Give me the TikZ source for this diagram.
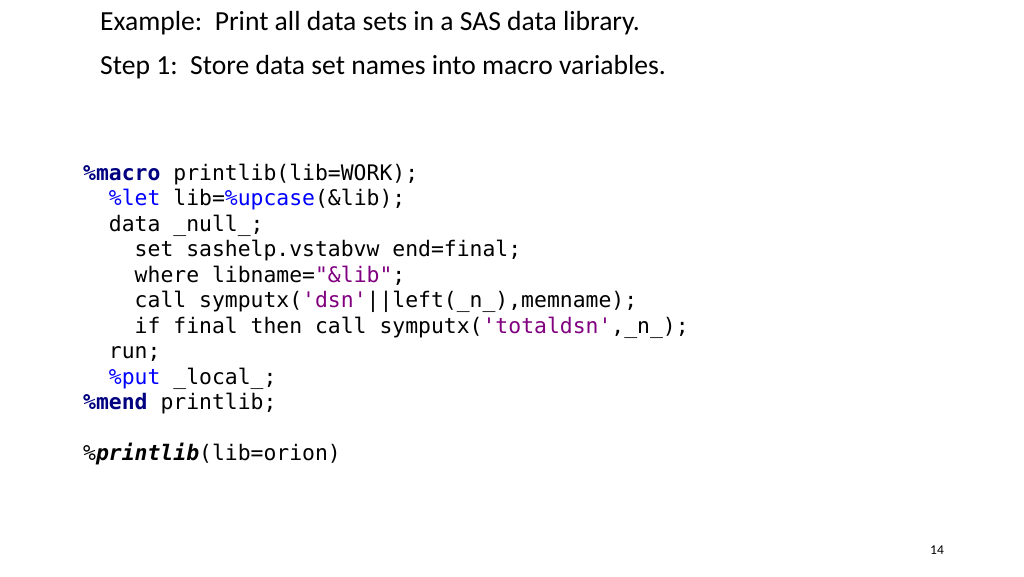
\documentclass[tikz,border=0pt]{standalone}
\usepackage{fontspec}
\setmainfont{Carlito}
\newfontfamily\codefont{DejaVu Sans Mono}
\definecolor{kwnavy}{RGB}{0,0,128}
\definecolor{kwblue}{RGB}{0,0,255}
\definecolor{strpur}{RGB}{128,0,128}
\newcommand{\mk}[1]{\textcolor{kwnavy}{\bfseries #1}}
\newcommand{\kb}[1]{\textcolor{kwblue}{#1}}
\newcommand{\st}[1]{\textcolor{strpur}{#1}}
\begin{document}
\begin{tikzpicture}[x=1pt,y=-1pt,
  title/.style={anchor=base west,inner sep=0,font=\fontsize{27.6}{32}\selectfont},
  code/.style={anchor=base west,inner sep=0,font=\codefont\fontsize{21.4}{25}\selectfont},
  pnum/.style={anchor=base,inner sep=0,font=\fontsize{13.5}{16}\selectfont}]
\useasboundingbox (0,0) rectangle (1024,576);
\node[title] (t1) at (100,30) {Example:\ \ Print all data sets in a SAS data library.};
\node[title] (t2) at (100,74) {Step 1:\ \ Store data set names into macro variables.};
\node[code] (c1) at (83,180) {\mk{\%macro} printlib(lib=WORK);};
\node[code] (c2) at (83,205.5) {\ \ \kb{\%let} lib=\kb{\%upcase}(\&lib);};
\node[code] (c3) at (83,231) {\ \ data \_null\_;};
\node[code] (c4) at (83,256.5) {\ \ \ \ set sashelp.vstabvw end=final;};
\node[code] (c5) at (83,282) {\ \ \ \ where libname=\st{"\&lib"};};
\node[code] (c6) at (83,307.5) {\ \ \ \ call symputx(\st{'dsn'}||left(\_n\_),memname);};
\node[code] (c7) at (83,333) {\ \ \ \ if final then call symputx(\st{'totaldsn'},\_n\_);};
\node[code] (c8) at (83,358.5) {\ \ run;};
\node[code] (c9) at (83,384) {\ \ \kb{\%put} \_local\_;};
\node[code] (c10) at (83,409.5) {\mk{\%mend} printlib;};
\node[code] (c11) at (83,460) {\%\textit{\textbf{printlib}}(lib=orion)};
\node[pnum] (pn) at (937,554) {14};
\end{tikzpicture}
\end{document}
